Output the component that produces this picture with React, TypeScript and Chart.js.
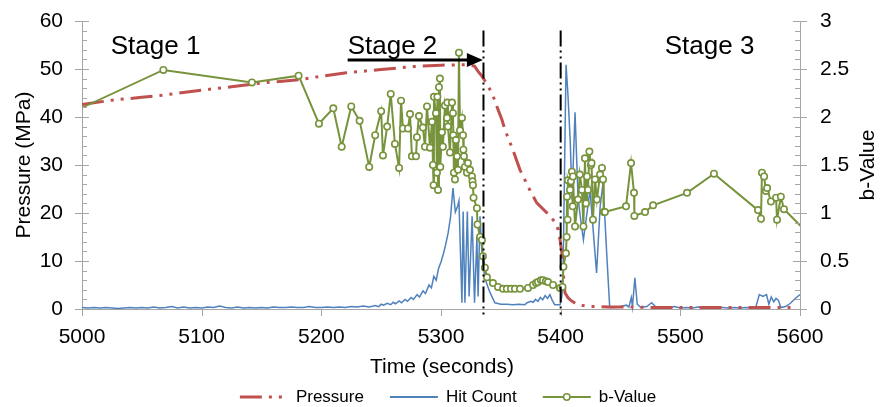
import React, { useEffect, useRef } from 'react';
import { Chart, registerables } from 'chart.js';

Chart.register(...registerables);

// ---------- data ----------
const pressureTime = [5000, 5025, 5050, 5069, 5100, 5125, 5150, 5165, 5182, 5200, 5221, 5250, 5277, 5300, 5322, 5328, 5331, 5334, 5337, 5342.6, 5347, 5351, 5353.5, 5360, 5366, 5374, 5380, 5388.6, 5395, 5398, 5399.5, 5401, 5402, 5403.6, 5406, 5408, 5414, 5424, 5432, 5440, 5460, 5480, 5500, 5520, 5540, 5560, 5580, 5594];
const pressureValue = [42.6, 43.5, 44.1, 44.6, 45.6, 46.3, 47.1, 47.4, 47.8, 48.5, 49.2, 49.9, 50.5, 50.8, 50.9, 50.6, 49.5, 48.6, 47.4, 45.0, 42.0, 39.4, 37.3, 33.2, 29.0, 24.9, 22.1, 20.0, 18.2, 16.5, 14.4, 11.7, 8.0, 3.4, 2.4, 1.9, 0.9, 0.5, 0.5, 0.4, 0.4, 0.3, 0.3, 0.3, 0.3, 0.3, 0.3, 0.3];

const hitTime = [5000, 5005, 5010, 5015, 5020, 5025, 5030, 5035, 5040, 5045, 5050, 5055, 5060, 5065, 5070, 5075, 5080, 5085, 5090, 5095, 5100, 5105, 5110, 5115, 5120, 5125, 5130, 5135, 5140, 5145, 5150, 5155, 5160, 5165, 5170, 5175, 5180, 5185, 5190, 5195, 5200, 5205, 5210, 5215, 5220, 5225, 5230, 5235, 5240, 5245, 5248, 5250, 5252, 5255, 5258, 5260, 5262, 5265, 5267, 5270, 5272, 5275, 5277, 5280, 5282, 5285, 5287, 5290, 5292, 5294, 5296, 5298, 5300, 5302, 5304, 5306, 5308, 5310, 5312, 5314, 5315, 5317.5, 5318.5, 5320, 5322, 5323.5, 5326, 5328, 5330, 5331, 5332.6, 5334, 5336, 5338, 5341, 5345, 5350, 5355, 5360, 5365, 5370, 5372, 5375, 5377, 5379, 5381, 5383, 5385, 5387, 5389, 5391, 5393, 5395, 5399.5, 5401, 5402, 5404.5, 5406, 5408, 5409.5, 5412, 5414.5, 5416, 5419, 5422, 5424.5, 5427, 5430, 5433, 5435.4, 5438.6, 5441, 5445, 5450, 5455, 5457, 5459, 5460, 5462, 5464, 5467, 5472, 5476, 5480, 5485, 5490, 5495, 5500, 5505, 5510, 5515, 5520, 5525, 5530, 5535, 5540, 5545, 5550, 5555, 5560, 5563, 5566, 5569, 5572, 5574, 5576, 5578, 5580, 5582, 5584, 5588, 5592, 5596, 5600];
const hitValue = [0.3, 0.2, 0.3, 0.2, 0.3, 0.2, 0.1, 0.2, 0.3, 0.2, 0.3, 0.2, 0.4, 0.2, 0.3, 0.5, 0.2, 0.4, 0.2, 0.3, 0.2, 0.4, 0.3, 0.6, 0.3, 0.2, 0.4, 0.2, 0.3, 0.2, 0.3, 0.2, 0.4, 0.3, 0.3, 0.4, 0.3, 0.3, 0.5, 0.3, 0.3, 0.4, 0.3, 0.4, 0.3, 0.5, 0.4, 0.6, 0.4, 0.7, 0.5, 1.0, 0.8, 1.2, 0.9, 1.4, 1.1, 1.7, 1.3, 2.0, 1.6, 2.4, 2.0, 3.0, 2.5, 3.8, 3.2, 5.0, 4.4, 6.8, 6.0, 8.5, 9.8, 11.5, 13.5, 15.9, 19.2, 25.2, 20.2, 21.5, 22.5, 1.3, 20.3, 1.3, 20.3, 2.6, 19.3, 1.3, 15.0, 2.6, 19.3, 12.4, 7.6, 5.4, 3.4, 1.3, 1.0, 1.0, 0.9, 1.0, 0.9, 1.3, 1.6, 1.4, 2.0, 1.6, 2.4, 1.9, 2.8, 2.2, 3.0, 1.8, 0.9, 0.9, 2.6, 7.5, 50.9, 45.0, 35.0, 22.8, 41.0, 23.4, 20.0, 14.4, 20.0, 24.8, 17.0, 7.5, 21.4, 26.2, 11.0, 0.3, 0.3, 0.5, 0.8, 0.4, 2.4, 0.5, 6.5, 1.0, 0.3, 0.5, 1.3, 0.3, 0.3, 0.2, 0.5, 0.2, 0.3, 0.2, 0.4, 0.3, 0.2, 0.4, 0.3, 0.2, 0.3, 0.2, 0.3, 0.2, 0.3, 3.0, 2.6, 3.0, 1.0, 2.5, 1.5, 2.2, 1.8, 0.3, 0.5, 1.2, 2.2, 3.0];

const bTime = [4992, 5068, 5142, 5181, 5198, 5210, 5217, 5225, 5232, 5240, 5245, 5250, 5251.5, 5255, 5258, 5261.5, 5265, 5266.6, 5268.2, 5272.4, 5274.1, 5275.7, 5279.1, 5279.9, 5281.6, 5284.9, 5286.6, 5288.3, 5290.8, 5292.5, 5293.3, 5293.8, 5294.1, 5295.8, 5296.6, 5297, 5297.5, 5298.3, 5299.1, 5299.4, 5300.8, 5301.6, 5303.3, 5305, 5305.3, 5305.8, 5307.5, 5309.2, 5310, 5310.3, 5310.8, 5311.7, 5312.5, 5313.4, 5314.2, 5315, 5315.9, 5317.5, 5318.4, 5318.7, 5319.2, 5320, 5321.7, 5322.5, 5324.2, 5325.9, 5326.3, 5326.7, 5327.2, 5330, 5330.5, 5332.6, 5334.2, 5335, 5336.7, 5338.4, 5343.4, 5347.6, 5351.8, 5355, 5358.5, 5361.8, 5366, 5372.7, 5376.9, 5379.4, 5381, 5383.5, 5385.2, 5387.7, 5389.4, 5393.6, 5399.4, 5401.5, 5402.3, 5404.4, 5405, 5405.3, 5405.8, 5406.1, 5407.8, 5408.6, 5409.4, 5410, 5410.3, 5412, 5414.5, 5416, 5417.8, 5419, 5420.3, 5421.2, 5422, 5422.8, 5424, 5425.3, 5425.8, 5427, 5428.7, 5430.3, 5432.9, 5434.5, 5435.4, 5436, 5437, 5454.6, 5458.8, 5461.3, 5461.6, 5470.5, 5477.2, 5505.6, 5528.1, 5564.9, 5567.4, 5568.2, 5570, 5571.5, 5572.5, 5575.7, 5580, 5580.8, 5584, 5586.6, 5605];
const bValue = [2.05, 2.49, 2.36, 2.43, 1.93, 2.09, 1.69, 2.11, 1.96, 1.48, 1.81, 2.06, 1.6, 1.9, 2.24, 1.72, 1.47, 2.17, 1.88, 1.88, 2.03, 1.59, 1.59, 1.79, 2.01, 1.89, 1.69, 2.11, 1.68, 1.95, 1.5, 1.29, 2.21, 2.04, 1.42, 2.21, 1.24, 2.31, 2.4, 1.48, 1.84, 1.69, 2.12, 1.99, 2.15, 1.9, 1.63, 2.15, 2.04, 1.81, 1.42, 1.35, 1.76, 1.59, 1.45, 2.67, 1.86, 1.99, 1.81, 1.66, 1.59, 1.48, 1.42, 1.52, 1.45, 1.38, 1.33, 1.29, 1.16, 1.05, 0.88, 0.75, 0.72, 0.55, 0.43, 0.33, 0.27, 0.23, 0.21, 0.21, 0.21, 0.21, 0.21, 0.22, 0.25, 0.27, 0.28, 0.3, 0.3, 0.29, 0.28, 0.25, 0.22, 0.23, 0.44, 0.58, 0.75, 1.17, 0.93, 1.34, 1.24, 1.33, 1.43, 1.07, 1.38, 0.86, 1.14, 1.4, 1.24, 0.86, 1.57, 1.1, 1.38, 1.24, 1.64, 1.5, 1.52, 0.93, 1.35, 1.14, 1.4, 1.47, 1.35, 1.01, 1.01, 1.07, 1.52, 1.21, 0.97, 1.01, 1.08, 1.21, 1.41, 1.03, 0.94, 1.42, 1.38, 1.23, 1.26, 1.12, 1.16, 0.93, 1.17, 1.04, 0.81];

const xTicks = [5000, 5100, 5200, 5300, 5400, 5500, 5600];
const leftTicks = [0, 10, 20, 30, 40, 50, 60];
const rightTicks = [0, 0.5, 1, 1.5, 2, 2.5, 3];
const leftMinorStep = 2;
const rightMinorStep = 0.1;

const seriesNames = ['Pressure', 'Hit Count', 'b-Value'];
const stageLabels = ['Stage 1', 'Stage 2', 'Stage 3'];
const stageLabelTime = [5024, 5222, 5487];
const stageLabelLevel = 53.1;
const stageBoundaries = [5335.5, 5400];
const boundaryTopLevel = 58;
const arrowFromTime = 5222;
const arrowToTime = 5335;
const arrowLevel = 51.9;

const xTitle = 'Time (seconds)';
const leftTitle = 'Pressure (MPa)';
const rightTitle = 'b-Value';

// ---------- styles ----------
const FONT = "'Liberation Sans', Arial, sans-serif";
const RED = '#c0504d';
const BLUE = '#4f81bd';
const GREEN = '#77933c';
const AXIS = '#a6a6a6';
const TEXT = '#000000';
const PRESSURE_DASH = [22, 7, 3, 7, 3, 7];

const decorations = {
  id: 'decorations',
  afterDraw(chart: any) {
    const ctx = chart.ctx as CanvasRenderingContext2D;
    const { left, right, top, bottom } = chart.chartArea;
    const xs = chart.scales.x;
    const yl = chart.scales.y;
    const yr = chart.scales.y1;
    ctx.save();

    // tick marks
    ctx.strokeStyle = AXIS;
    ctx.lineWidth = 1;
    const lMax = leftTicks[leftTicks.length - 1];
    const nl = Math.round(lMax / leftMinorStep);
    for (let i = 0; i <= nl; i++) {
      const v = i * leftMinorStep;
      const major = leftTicks.includes(v);
      const y = Math.round(yl.getPixelForValue(v)) + 0.5;
      ctx.beginPath();
      ctx.moveTo(major ? left - 7 : left, y);
      ctx.lineTo(left + (major ? 7 : 5), y);
      ctx.stroke();
    }
    const rMax = rightTicks[rightTicks.length - 1];
    const nr = Math.round(rMax / rightMinorStep);
    for (let i = 0; i <= nr; i++) {
      const v = i * rightMinorStep;
      const major = rightTicks.some((t) => Math.abs(t - v) < 1e-6);
      const y = Math.round(yr.getPixelForValue(v)) + 0.5;
      ctx.beginPath();
      ctx.moveTo(major ? right + 7 : right, y);
      ctx.lineTo(right - (major ? 7 : 5), y);
      ctx.stroke();
    }
    for (const t of xTicks) {
      const x = Math.round(xs.getPixelForValue(t)) + 0.5;
      ctx.beginPath();
      ctx.moveTo(x, bottom);
      ctx.lineTo(x, bottom + 7);
      ctx.stroke();
    }

    // stage boundaries
    ctx.strokeStyle = '#000';
    ctx.lineWidth = 2;
    ctx.setLineDash([16, 4, 2, 4, 2, 4]);
    for (const b of stageBoundaries) {
      const x = xs.getPixelForValue(b);
      ctx.beginPath();
      ctx.moveTo(x, yl.getPixelForValue(boundaryTopLevel));
      ctx.lineTo(x, bottom + 9);
      ctx.stroke();
    }
    ctx.setLineDash([]);

    // arrow
    const ay = yl.getPixelForValue(arrowLevel);
    const ax0 = xs.getPixelForValue(arrowFromTime);
    const ax1 = xs.getPixelForValue(arrowToTime);
    ctx.strokeStyle = '#000';
    ctx.fillStyle = '#000';
    ctx.lineWidth = 3;
    ctx.beginPath();
    ctx.moveTo(ax0, ay);
    ctx.lineTo(ax1 - 14, ay);
    ctx.stroke();
    ctx.beginPath();
    ctx.moveTo(ax1, ay);
    ctx.lineTo(ax1 - 16, ay - 7);
    ctx.lineTo(ax1 - 16, ay + 7);
    ctx.closePath();
    ctx.fill();

    // stage labels
    ctx.font = `26px ${FONT}`;
    ctx.fillStyle = TEXT;
    ctx.textAlign = 'left';
    ctx.textBaseline = 'alphabetic';
    stageLabels.forEach((s, i) => {
      ctx.fillText(s, xs.getPixelForValue(stageLabelTime[i]), yl.getPixelForValue(stageLabelLevel));
    });

    // axis titles
    ctx.font = `21px ${FONT}`;
    ctx.textAlign = 'center';
    ctx.textBaseline = 'alphabetic';
    ctx.fillText(xTitle, (left + right) / 2 + 1, 373);
    ctx.textBaseline = 'middle';
    const midY = (top + bottom) / 2;
    ctx.save();
    ctx.translate(24, midY);
    ctx.rotate(-Math.PI / 2);
    ctx.fillText(leftTitle, 0, 0);
    ctx.restore();
    ctx.save();
    ctx.translate(868, midY);
    ctx.rotate(-Math.PI / 2);
    ctx.fillText(rightTitle, 0, 0);
    ctx.restore();

    // legend
    ctx.font = `17px ${FONT}`;
    const sampleW = 48;
    const textGap = 8;
    const itemGap = 26;
    const widths = seriesNames.map((n) => sampleW + textGap + ctx.measureText(n).width);
    const total = widths.reduce((a, b) => a + b, 0) + itemGap * (seriesNames.length - 1);
    let x = 448 - total / 2;
    const ly = 397;
    seriesNames.forEach((name, i) => {
      ctx.save();
      if (i === 0) {
        ctx.strokeStyle = RED;
        ctx.lineWidth = 3;
        ctx.setLineDash(PRESSURE_DASH);
      } else if (i === 1) {
        ctx.strokeStyle = BLUE;
        ctx.lineWidth = 2;
      } else {
        ctx.strokeStyle = GREEN;
        ctx.lineWidth = 2;
      }
      ctx.beginPath();
      ctx.moveTo(x, ly);
      ctx.lineTo(x + sampleW, ly);
      ctx.stroke();
      if (i === 2) {
        ctx.setLineDash([]);
        ctx.lineWidth = 1.5;
        ctx.fillStyle = '#fff';
        ctx.beginPath();
        ctx.arc(x + sampleW / 2, ly, 3.2, 0, Math.PI * 2);
        ctx.fill();
        ctx.stroke();
      }
      ctx.restore();
      ctx.fillStyle = TEXT;
      ctx.textAlign = 'left';
      ctx.textBaseline = 'middle';
      ctx.fillText(name, x + sampleW + textGap, ly);
      x += widths[i] + itemGap;
    });

    ctx.restore();
  },
};

export default function App() {
  const ref = useRef<HTMLCanvasElement | null>(null);

  useEffect(() => {
    if (!ref.current) return;
    Chart.defaults.font.family = FONT;
    const clip = { left: 0, right: 0, top: 6, bottom: 6 };
    const chart = new Chart(ref.current, {
      type: 'line',
      data: {
        datasets: [
          {
            label: seriesNames[2],
            data: bTime.map((t, i) => ({ x: t, y: bValue[i] })),
            yAxisID: 'y1',
            borderColor: GREEN,
            backgroundColor: '#ffffff',
            borderWidth: 2,
            pointRadius: 3.2,
            pointBorderWidth: 1.6,
            pointBorderColor: GREEN,
            pointBackgroundColor: '#ffffff',
            tension: 0,
            order: 0,
            clip,
          } as any,
          {
            label: seriesNames[0],
            data: pressureTime.map((t, i) => ({ x: t, y: pressureValue[i] })),
            yAxisID: 'y',
            borderColor: RED,
            borderWidth: 3,
            borderDash: PRESSURE_DASH,
            pointRadius: 0,
            tension: 0,
            order: 1,
            clip,
          } as any,
          {
            label: seriesNames[1],
            data: hitTime.map((t, i) => ({ x: t, y: hitValue[i] })),
            yAxisID: 'y',
            borderColor: BLUE,
            borderWidth: 1.5,
            pointRadius: 0,
            tension: 0,
            order: 2,
            clip,
          } as any,
        ],
      },
      options: {
        responsive: false,
        animation: false,
        layout: { padding: { top: 21, left: 0, right: 0, bottom: 0 } },
        plugins: { legend: { display: false }, tooltip: { enabled: false } },
        scales: {
          x: {
            type: 'linear',
            min: xTicks[0],
            max: xTicks[xTicks.length - 1],
            afterBuildTicks: (s: any) => { s.ticks = xTicks.map((v) => ({ value: v })); },
            afterFit: (s: any) => { s.height = 98; s.paddingLeft = 0; s.paddingRight = 0; },
            grid: { display: false, drawTicks: false },
            border: { display: true, color: AXIS, width: 1 },
            ticks: { color: TEXT, font: { size: 21 }, padding: 16, maxRotation: 0, callback: (v: any) => String(v) },
          },
          y: {
            type: 'linear',
            position: 'left',
            min: leftTicks[0],
            max: leftTicks[leftTicks.length - 1],
            afterBuildTicks: (s: any) => { s.ticks = leftTicks.map((v) => ({ value: v })); },
            afterFit: (s: any) => { s.width = 82; s.paddingTop = 0; s.paddingBottom = 0; },
            grid: { display: false, drawTicks: false },
            border: { display: true, color: AXIS, width: 1 },
            ticks: { color: TEXT, font: { size: 21 }, padding: 19, callback: (v: any) => String(v) },
          },
          y1: {
            type: 'linear',
            position: 'right',
            min: rightTicks[0],
            max: rightTicks[rightTicks.length - 1],
            afterBuildTicks: (s: any) => { s.ticks = rightTicks.map((v) => ({ value: v })); },
            afterFit: (s: any) => { s.width = 81; s.paddingTop = 0; s.paddingBottom = 0; },
            grid: { display: false, drawTicks: false },
            border: { display: true, color: AXIS, width: 1 },
            ticks: { color: TEXT, font: { size: 21 }, padding: 20, callback: (v: any) => String(v) },
          },
        },
      },
      plugins: [decorations],
    } as any);
    return () => chart.destroy();
  }, []);

  return (
    <div style={{ position: 'fixed', left: 0, top: 0, width: 881, height: 407, background: '#fff' }}>
      <canvas ref={ref} width={881} height={407} style={{ display: 'block' }} />
    </div>
  );
}
